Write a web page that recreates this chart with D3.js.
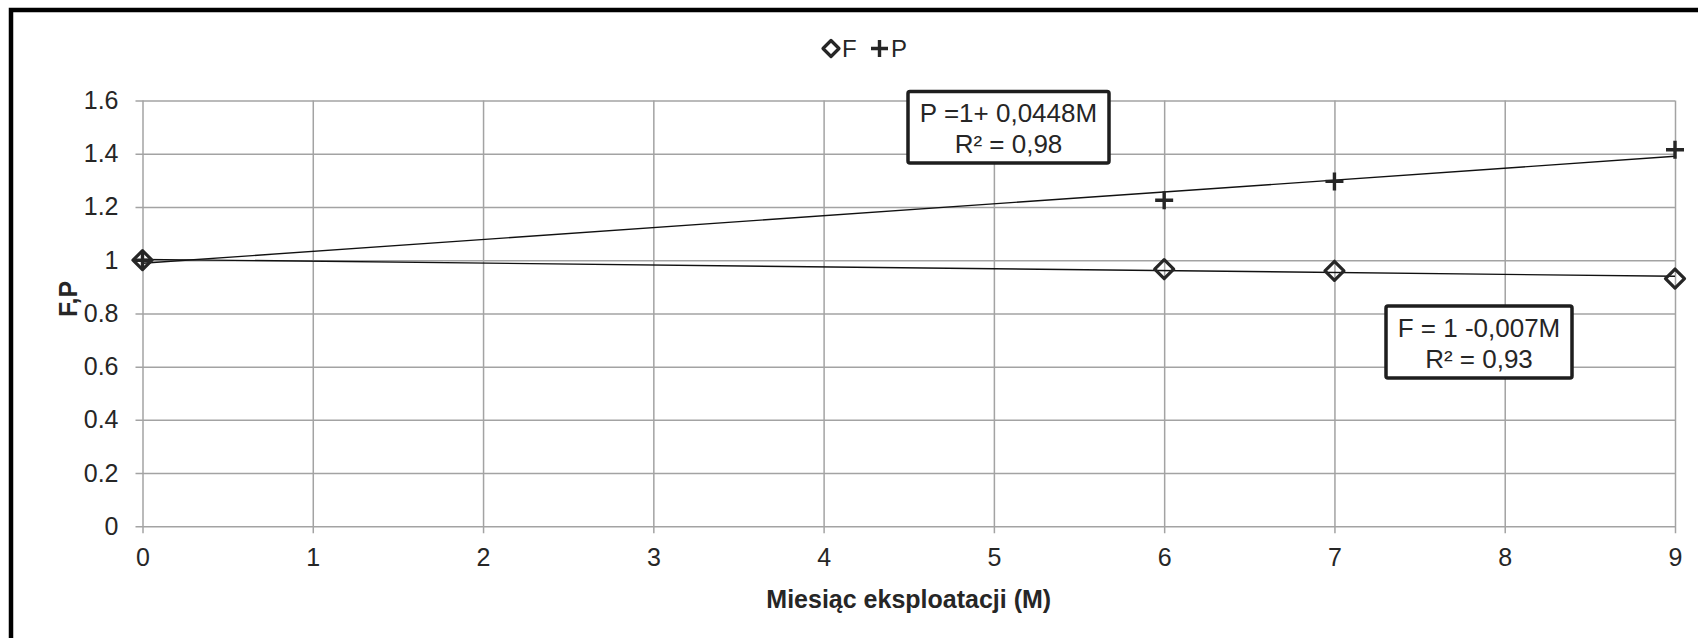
<!DOCTYPE html>
<html>
<head>
<meta charset="utf-8">
<script src="https://cdn.jsdelivr.net/npm/d3@7"></script>
<style>
  body { margin: 0; background: #fff; }
  text { font-family: "Liberation Sans", Arial, sans-serif; fill: #262626; }
</style>
</head>
<body>
<script>
(function(){
  var canvasWidth = 1698;
  var canvasHeight = 638;

  // data
  var months = [0, 6, 7, 9];
  var valuesF = [1.0, 0.966, 0.960, 0.931];
  var valuesP = [1.0, 1.225, 1.296, 1.415];
  var xTicks = [0, 1, 2, 3, 4, 5, 6, 7, 8, 9];
  var yTicks = [0, 0.2, 0.4, 0.6, 0.8, 1.0, 1.2, 1.4, 1.6];
  var labelP = ["P =1+ 0,0448M", "R\u00b2 = 0,98"];
  var labelF = ["F = 1 -0,007M", "R\u00b2 = 0,93"];

  var left = 142.5, right = 1675, top = 100.5, bottom = 526.3;
  var ink = "#262626";
  var gridColor = "#a3a3a3";

  var svg = d3.select("body").append("svg")
    .attr("width", canvasWidth)
    .attr("height", canvasHeight);

  // frame (only top and left edges visible)
  svg.append("path")
    .attr("d", "M11,638 V10 H1698")
    .attr("fill", "none")
    .attr("stroke", "#000")
    .attr("stroke-width", 4.5);

  var x = d3.scaleLinear().domain([0, 9]).range([left, right]);
  var y = d3.scaleLinear().domain([0, 1.6]).range([bottom, top]);

  // y grid + labels
  var yAxis = svg.append("g")
    .attr("transform", "translate(" + (left - 7) + ",0)")
    .call(d3.axisLeft(y)
      .tickValues(yTicks)
      .tickSize(-(right - left + 7))
      .tickPadding(17)
      .tickFormat(d => String(+d.toFixed(1))));
  yAxis.select(".domain").remove();
  yAxis.selectAll("line").attr("stroke", gridColor).attr("stroke-width", 1.5);
  yAxis.selectAll("text")
    .attr("font-size", 25).attr("fill", ink)
    .style("font-family", "'Liberation Sans', Arial, sans-serif");

  // x grid + labels
  var xAxis = svg.append("g")
    .attr("transform", "translate(0," + (bottom + 7) + ")")
    .call(d3.axisBottom(x)
      .tickValues(xTicks)
      .tickSize(-(bottom - top + 7))
      .tickPadding(15)
      .tickFormat(d3.format("d")));
  xAxis.select(".domain").remove();
  xAxis.selectAll("line").attr("stroke", gridColor).attr("stroke-width", 1.5);
  xAxis.selectAll("text")
    .attr("font-size", 25).attr("fill", ink)
    .style("font-family", "'Liberation Sans', Arial, sans-serif");

  // least squares trend
  function fit(xs, ys) {
    var mx = d3.mean(xs), my = d3.mean(ys);
    var sxy = d3.sum(xs, (v, i) => (v - mx) * (ys[i] - my));
    var sxx = d3.sum(xs, v => (v - mx) * (v - mx));
    var b = sxy / sxx;
    return { a: my - b * mx, b: b };
  }

  [valuesF, valuesP].forEach(function(vals) {
    var f = fit(months, vals);
    svg.append("line")
      .attr("x1", x(0)).attr("y1", y(f.a))
      .attr("x2", x(9)).attr("y2", y(f.a + f.b * 9))
      .attr("stroke", "#111")
      .attr("stroke-width", 1.4);
  });

  function diamond(g, cx, cy, r) {
    g.append("path")
      .attr("d", "M" + cx + "," + (cy - r) + " L" + (cx + r) + "," + cy +
        " L" + cx + "," + (cy + r) + " L" + (cx - r) + "," + cy + "Z")
      .attr("fill", "none")
      .attr("stroke", ink)
      .attr("stroke-width", 3.2)
      .attr("stroke-linejoin", "round");
  }

  function plus(g, cx, cy, r) {
    g.append("path")
      .attr("d", "M" + (cx - r) + "," + cy + " H" + (cx + r) +
        " M" + cx + "," + (cy - r) + " V" + (cy + r))
      .attr("stroke", ink)
      .attr("stroke-width", 3.4);
  }

  var marks = svg.append("g");
  months.forEach(function(m, i) {
    diamond(marks, x(m), y(valuesF[i]), 9.5);
    plus(marks, x(m), y(valuesP[i]), 9);
  });

  // legend
  var legend = svg.append("g");
  diamond(legend, 831, 48.5, 8);
  legend.append("text").attr("x", 842).attr("y", 57).attr("font-size", 24).text("F");
  plus(legend, 879.5, 48.5, 8.5);
  legend.append("text").attr("x", 891).attr("y", 57).attr("font-size", 24).text("P");

  // equation boxes
  function box(x0, y0, x1, y1, lines, base1, base2) {
    var g = svg.append("g");
    g.append("rect")
      .attr("x", x0).attr("y", y0)
      .attr("width", x1 - x0).attr("height", y1 - y0)
      .attr("rx", 2)
      .attr("fill", "#fff")
      .attr("stroke", "#1e1e1e")
      .attr("stroke-width", 3.5);
    g.selectAll("text").data(lines).enter().append("text")
      .attr("x", (x0 + x1) / 2)
      .attr("y", (d, i) => i === 0 ? base1 : base2)
      .attr("text-anchor", "middle")
      .attr("font-size", 26)
      .text(d => d);
  }
  box(908, 91.5, 1109, 163, labelP, 121.5, 153);
  box(1386, 306, 1572, 378, labelF, 337, 367.5);

  // axis titles
  svg.append("text")
    .attr("x", (left + right) / 2)
    .attr("y", 608)
    .attr("text-anchor", "middle")
    .attr("font-size", 25)
    .attr("font-weight", "bold")
    .text("Miesiąc eksploatacji (M)");

  svg.append("text")
    .attr("transform", "translate(77,299) rotate(-90)")
    .attr("text-anchor", "middle")
    .attr("font-size", 25)
    .attr("font-weight", "bold")
    .text("F,P");
})();
</script>
</body>
</html>
